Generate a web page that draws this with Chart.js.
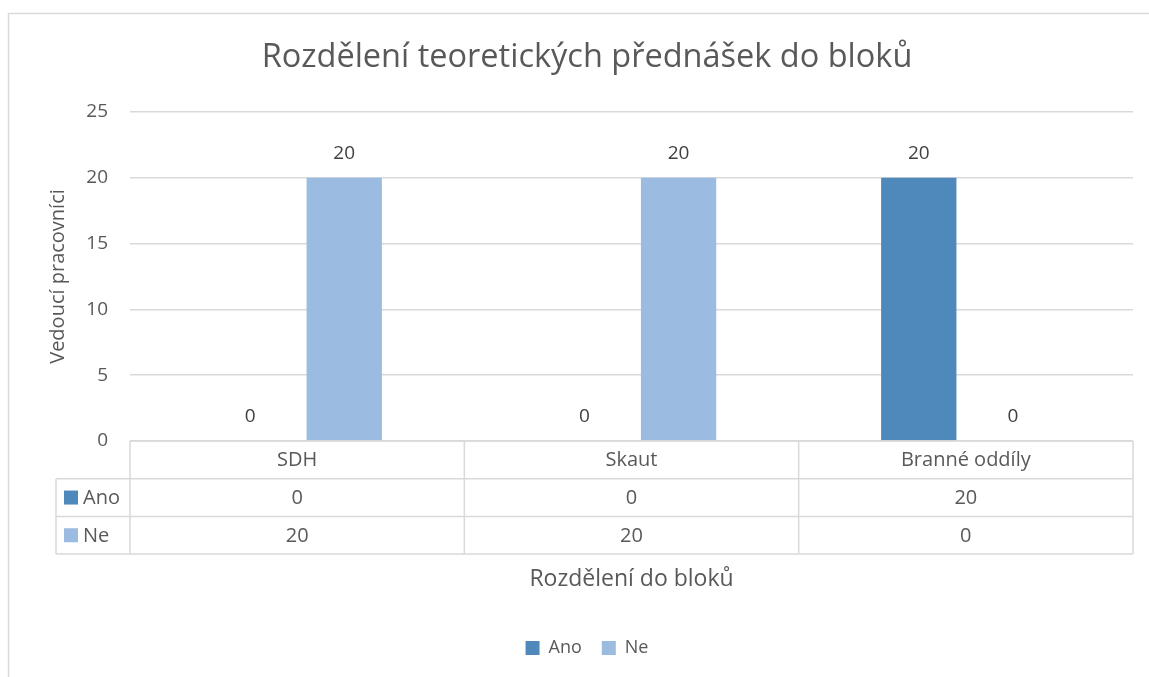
<!DOCTYPE html>
<html>
<head>
<meta charset="utf-8">
<script src="https://cdn.jsdelivr.net/npm/chart.js@4.4.1/dist/chart.umd.min.js"></script>
<style>
  html, body { margin: 0; padding: 0; background: #ffffff; }
  #wrap { width: 1149px; height: 677px; position: relative; }
</style>
</head>
<body>
<div id="wrap"><canvas id="c" width="1149" height="677"></canvas></div>
<script>
const categories = ['SDH', 'Skaut', 'Branné oddíly'];
const seriesNames = ['Ano', 'Ne'];
const anoValues = [0, 0, 20];
const neValues = [20, 20, 0];
const yTicks = [0, 5, 10, 15, 20, 25];
const chartTitle = 'Rozdělení teoretických přednášek do bloků';
const yAxisTitle = 'Vedoucí pracovníci';
const xAxisTitle = 'Rozdělení do bloků';

const COL_ANO = '#4F88BB';
const COL_NE = '#9BBBE0';
const GRID = '#D9D9D9';
const TXT = '#595959';
const FONT = '"Open Sans", "Noto Sans", sans-serif';

const frameAndTable = {
  id: 'frameAndTable',
  beforeDraw(chart) {
    const ctx = chart.ctx;
    ctx.save();
    ctx.strokeStyle = GRID;
    ctx.lineWidth = 1.5;
    ctx.beginPath();
    ctx.moveTo(8.5, 677);
    ctx.lineTo(8.5, 13.5);
    ctx.lineTo(1149, 13.5);
    ctx.stroke();
    ctx.restore();
  },
  afterDatasetsDraw(chart) {
    const ctx = chart.ctx;
    ctx.save();
    ctx.font = '19px ' + FONT;
    ctx.fillStyle = '#404040';
    ctx.textAlign = 'center';
    ctx.textBaseline = 'middle';
    chart.data.datasets.forEach((ds, di) => {
      const meta = chart.getDatasetMeta(di);
      meta.data.forEach((bar, i) => {
        ctx.fillText(String(ds.data[i]), bar.x, bar.y - 24);
      });
    });
    ctx.restore();
  },
  afterDraw(chart) {
    const ctx = chart.ctx;
    const x = chart.scales.x;
    const y = chart.scales.y;
    const top = y.bottom;
    const rowH = 37.7;
    const r1 = top + rowH, r2 = top + 2 * rowH, r3 = top + 3 * rowH;
    const left = x.left, right = x.right;
    const keyLeft = 56;
    const n = categories.length;
    const catW = (right - left) / n;
    ctx.save();
    ctx.strokeStyle = GRID;
    ctx.lineWidth = 1.5;
    ctx.beginPath();
    ctx.moveTo(left, top); ctx.lineTo(right, top);
    ctx.moveTo(keyLeft, r1); ctx.lineTo(right, r1);
    ctx.moveTo(keyLeft, r2); ctx.lineTo(right, r2);
    ctx.moveTo(keyLeft, r3); ctx.lineTo(right, r3);
    ctx.moveTo(keyLeft, r1); ctx.lineTo(keyLeft, r3);
    for (let i = 0; i <= n; i++) {
      const xx = left + i * catW;
      ctx.moveTo(xx, top); ctx.lineTo(xx, r3);
    }
    ctx.stroke();

    ctx.font = '20px ' + FONT;
    ctx.textBaseline = 'middle';
    ctx.textAlign = 'left';
    const rows = [[seriesNames[0], COL_ANO, anoValues, (r1 + r2) / 2], [seriesNames[1], COL_NE, neValues, (r2 + r3) / 2]];
    rows.forEach(([name, col, vals, cy]) => {
      ctx.fillStyle = col;
      ctx.fillRect(64, cy - 7, 14, 14);
      ctx.fillStyle = TXT;
      ctx.fillText(name, 83, cy + 1);
    });
    ctx.textAlign = 'center';
    rows.forEach(([name, col, vals, cy]) => {
      vals.forEach((v, i) => {
        ctx.fillStyle = TXT;
        ctx.fillText(String(v), x.getPixelForValue(i), cy + 1);
      });
    });
    ctx.font = '23px ' + FONT;
    ctx.fillStyle = TXT;
    ctx.fillText(xAxisTitle, (left + right) / 2, 579);
    ctx.restore();
  }
};

new Chart(document.getElementById('c'), {
  type: 'bar',
  data: {
    labels: categories,
    datasets: [
      { label: seriesNames[0], data: anoValues, backgroundColor: COL_ANO, categoryPercentage: 0.563, barPercentage: 0.8 },
      { label: seriesNames[1], data: neValues, backgroundColor: COL_NE, categoryPercentage: 0.563, barPercentage: 0.8 }
    ]
  },
  options: {
    responsive: false,
    animation: false,
    layout: { padding: { left: 41, right: 16, top: 0, bottom: 10 } },
    plugins: {
      title: {
        display: true,
        text: chartTitle,
        color: TXT,
        font: { family: FONT, size: 32.5, weight: 'normal' },
        padding: { top: 38.5, bottom: 34.5 }
      },
      legend: {
        display: true,
        position: 'bottom',
        labels: {
          color: TXT,
          font: { family: FONT, size: 18 },
          boxWidth: 14,
          boxHeight: 14,
          padding: 20
        }
      },
      tooltip: { enabled: false }
    },
    scales: {
      x: {
        grid: { display: false, drawTicks: false },
        border: { display: false },
        ticks: { color: TXT, font: { family: FONT, size: 20 }, padding: 7, maxRotation: 0 },
        afterFit(scale) { scale.height = 178; }
      },
      y: {
        min: 0,
        max: 25,
        afterBuildTicks(scale) { scale.ticks = yTicks.map(v => ({ value: v })); },
        grid: { color: GRID, lineWidth: 1.5, drawTicks: false },
        border: { display: false },
        ticks: { color: TXT, font: { family: FONT, size: 19 }, padding: 22 },
        title: {
          display: true,
          text: yAxisTitle,
          color: TXT,
          font: { family: FONT, size: 20 },
          padding: { top: 5, bottom: 0 }
        },
        afterFit(scale) { scale.width = 89; }
      }
    }
  },
  plugins: [frameAndTable]
});
</script>
</body>
</html>
